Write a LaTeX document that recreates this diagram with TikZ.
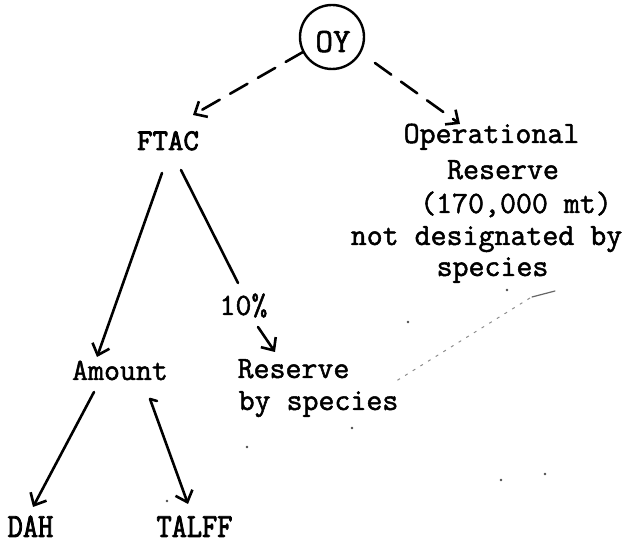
\documentclass[tikz,border=0pt]{standalone}
\usepackage{fontspec}
\newfontfamily\tw{Latin Modern Mono}[FakeBold=1.6]
\newfontfamily\twb{Latin Modern Mono}[FakeBold=2.8]
\usetikzlibrary{arrows.meta}
\tikzset{
  txt/.style={inner sep=0pt, anchor=base, font=\tw\fontsize{31}{34}\selectfont},
  lbl/.style={inner sep=0pt, anchor=base, font=\twb\fontsize{29.5}{32}\selectfont},
  conn/.style={line width=2.6pt, line cap=round, line join=round},
  arr/.style={conn, -{Straight Barb[length=10pt,width=18pt,line width=2.6pt]}},
  dsh/.style={arr, dash pattern=on 20pt off 12pt},
  speck/.style={fill=black!70, draw=none},
}
\begin{document}
\begin{tikzpicture}[x=1pt,y=-1pt]
\useasboundingbox (0,0) rectangle (633,545);
% nodes
\node[draw, circle, line width=2.4pt, minimum size=64pt, inner sep=0pt] (oy) at (332,37) {};
\node[txt, font=\tw\fontsize{34}{36}\selectfont] (oyt) at (333,52) {OY};
\node[txt, font=\twb\fontsize{30}{32}\selectfont] (ftac) at (168,150) {FTAC};
\node[txt] (op1) at (491.5,143) {Operational};
\node[txt] (op2) at (503,179) {Reserve};
\node[txt] (op3) at (516,213) {(170,000 mt)};
\node[txt] (op4) at (486.5,245) {not designated by};
\node[txt] (op5) at (492.5,276) {species};
\node[txt] (pct) at (243.5,315) {10\%};
\node[txt] (amt) at (120,380) {Amount};
\node[txt] (res1) at (293.5,378) {Reserve};
\node[txt] (res2) at (318.5,410) {by species};
\node[lbl] (dah) at (30.5,537) {\scalebox{1}[1.15]{DAH}};
\node[lbl] (talff) at (194.5,537) {\scalebox{1}[1.15]{TALFF}};
% connector end points
\coordinate (oyL) at (303,52);
\coordinate (oyR) at (375,63);
\coordinate (ftacT) at (193,115);
\coordinate (opT) at (460,124);
\coordinate (ftacA) at (162,173);
\coordinate (ftacB) at (181,170);
\coordinate (amtT) at (97,357);
\coordinate (pctT) at (238,283);
\coordinate (pctB) at (258,327);
\coordinate (resT) at (275,352);
\coordinate (amtA) at (94,392);
\coordinate (amtB) at (150,399);
\coordinate (amtBt) at (157,401);
\coordinate (dahT) at (33,507);
\coordinate (talffT) at (188,504);
% connectors
\draw[dsh] (oyL) -- (ftacT);
\draw[dsh] (oyR) -- (opT);
\draw[arr] (ftacA) -- (amtT);
\draw[conn] (ftacB) -- (pctT);
\draw[arr] (pctB) -- (resT);
\draw[arr] (amtA) -- (dahT);
\draw[conn] (amtBt) -- (amtB);
\draw[arr] (amtB) -- (talffT);
% faint scan marks
\draw[black!60, line width=1.2pt, line cap=round] (532,297) -- (555,291);
\draw[black!45, line width=1pt, dash pattern=on 3pt off 6pt] (530,298) -- (393,383);
\foreach \p in {(507,290),(408,322),(247,447),(352,428),(501,480),(545,474),(167,501)}
  \fill[speck] \p circle (1.3pt);
\end{tikzpicture}
\end{document}
